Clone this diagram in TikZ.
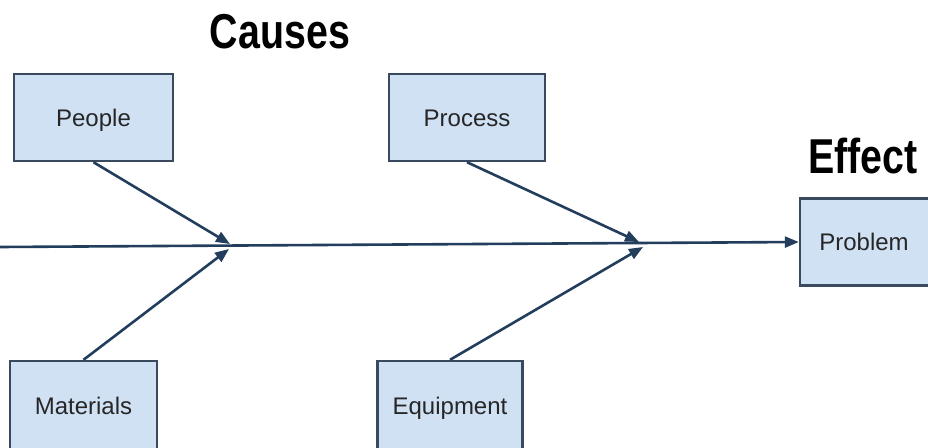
\documentclass[tikz,border=0pt]{standalone}
\usepackage{fontspec}
\setmainfont{Liberation Sans}
\usetikzlibrary{arrows.meta}
\definecolor{boxfill}{HTML}{D0E1F4}
\definecolor{boxline}{HTML}{3A4A5E}
\definecolor{arrowcol}{HTML}{233E5C}
\newcommand{\narrowtitle}[1]{\scalebox{0.82}[1.02]{\bfseries\fontsize{48}{52}\selectfont #1}}
\begin{document}
\begin{tikzpicture}[x=1pt,y=-1pt,
  causebox/.style={draw=boxline, fill=boxfill, line width=2.4pt, inner sep=0pt,
     font=\fontsize{24}{27}\selectfont, text=black!85, text height=20pt, text depth=3pt},
  bone/.style={draw=arrowcol, line width=2.6pt, -{Triangle[length=14pt,width=11pt]}},
  title/.style={text=black, inner sep=0pt}]
\useasboundingbox[fill=white] (0,0) rectangle (928,447);
% boxes
\node[causebox, minimum width=159pt, minimum height=87pt] (people) at (93.5,117.5) {People};
\node[causebox, minimum width=156pt, minimum height=87pt] (process) at (467,117.5) {Process};
\node[causebox, minimum width=147pt, minimum height=90pt] (materials) at (83.5,406) {Materials};
\node[causebox, minimum width=145pt, minimum height=90pt] (equipment) at (450,406) {Equipment};
\node[causebox, minimum width=134pt, minimum height=87pt] (problem) at (867,242) {\hspace*{-6pt}Problem};
% titles
\node[title] (causes) at (280,32) {\narrowtitle{Causes}};
\node[title] (effect) at (863,156) {\narrowtitle{Effect}};
% spine
\coordinate (tail) at (0,247);
\coordinate (j1a) at (230,244);
\coordinate (j1b) at (229,249);
\coordinate (j2a) at (639,242);
\coordinate (j2b) at (643,247);
\draw[bone] (tail) -- (problem.west);
% branches
\draw[bone] (people.south) -- (j1a);
\draw[bone] (materials.north) -- (j1b);
\draw[bone] (process.south) -- (j2a);
\draw[bone] (equipment.north) -- (j2b);
\end{tikzpicture}
\end{document}
